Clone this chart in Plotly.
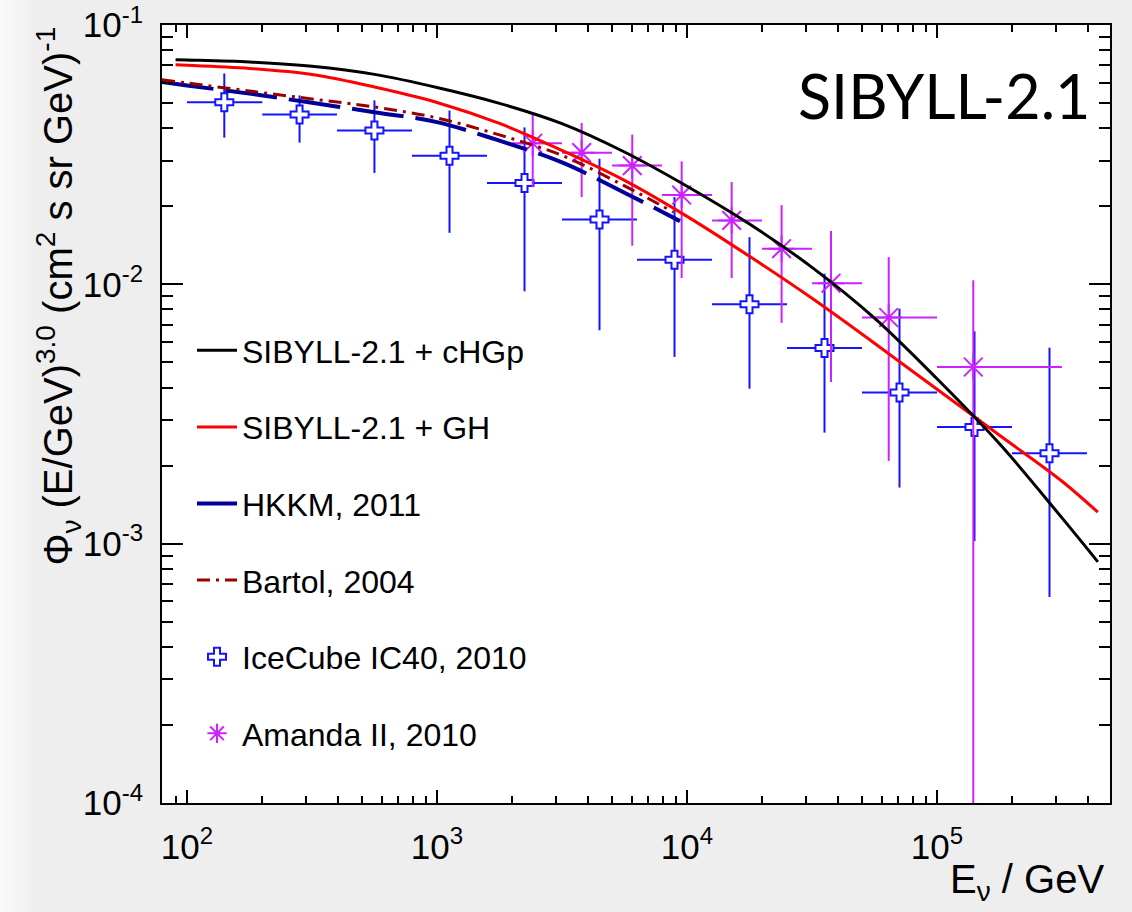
import plotly.graph_objects as go

# ---------------- data ----------------
# Model predictions of the atmospheric nu_mu flux (E^3 weighted)
chgp_energy = [90, 100, 177.8, 316.2, 562.3, 1000, 1778, 3162, 5623, 10000, 17783, 31623, 56234,
               100000, 177828, 316228, 440000]
chgp_flux = [0.0735, 0.07329, 0.07201, 0.06932, 0.06450, 0.05741, 0.04988, 0.04166, 0.03238, 0.02389,
             0.01708, 0.01163, 0.00741, 0.004323, 0.002427, 0.001257, 0.000851]

gh_energy = [90, 100, 177.8, 316.2, 562.3, 1000, 1778, 3162, 5623, 10000, 17783, 31623, 56234,
             100000, 177828, 316228, 440000]
gh_flux = [0.0702, 0.06995, 0.06799, 0.06444, 0.05767, 0.05028, 0.04173, 0.03284, 0.02517, 0.01828,
           0.01282, 0.008833, 0.005926, 0.003938, 0.002618, 0.001741, 0.001322]

hkkm_energy = [79.4, 100, 177.8, 316.2, 562.3, 1000, 1778, 3162, 5623, 9376]
hkkm_flux = [0.06023, 0.05845, 0.05438, 0.05010, 0.04612, 0.04221, 0.03579, 0.02952, 0.02256, 0.01753]

bartol_energy = [79.4, 100, 177.8, 316.2, 562.3, 1000, 1778, 3162, 5623, 8815]
bartol_flux = [0.06152, 0.05976, 0.05565, 0.05186, 0.04830, 0.04381, 0.03768, 0.03141, 0.02396, 0.01899]

# IceCube IC40 unfolded spectrum
ic_energy = [141, 282, 562, 1122, 2239, 4467, 8913, 17783, 35481, 70795, 141254, 281838]
ic_bin_lo = [100, 200, 398, 794, 1585, 3162, 6310, 12589, 25119, 50119, 100000, 199526]
ic_bin_hi = [200, 398, 794, 1585, 3162, 6310, 12589, 25119, 50119, 100000, 199526, 398107]
ic_flux = [0.0504, 0.0452, 0.0392, 0.0313, 0.0246, 0.0178, 0.01245, 0.00838, 0.00568, 0.00383, 0.00282, 0.002234]
ic_flux_lo = [0.0368, 0.0352, 0.0269, 0.0158, 0.0094, 0.00665, 0.00525, 0.00396, 0.00268, 0.001646, 0.001023, 0.000623]
ic_flux_hi = [0.0650, 0.0535, 0.0512, 0.0468, 0.0403, 0.0305, 0.0217, 0.0152, 0.0110, 0.00806, 0.00659, 0.00570]

# Amanda II unfolded spectrum
am_energy = [2415, 3790, 6040, 9520, 15090, 23900, 37670, 64100, 139700]
am_bin_lo = [1995, 3162, 5012, 7943, 12589, 19953, 31623, 50119, 100000]
am_bin_hi = [3162, 5012, 7943, 12589, 19953, 31623, 50119, 100000, 316228]
am_flux = [0.0350, 0.0322, 0.0287, 0.0221, 0.01764, 0.01372, 0.0101, 0.00745, 0.0048]
am_flux_lo = [0.0237, 0.0217, 0.0141, 0.01057, 0.01057, 0.0071, 0.0042, 0.002084, 0.00001]
am_flux_hi = [0.0457, 0.0419, 0.0378, 0.0298, 0.0248, 0.0202, 0.01604, 0.01274, 0.01036]

SUP = '<sup><span style="font-size:24px">{}</span></sup>'
x_tickvals = [1e2, 1e3, 1e4, 1e5]
x_ticktext = ["10" + SUP.format(p) for p in ["2", "3", "4", "5"]]
y_tickvals = [1e-4, 1e-3, 1e-2, 1e-1]
y_ticktext = ["10" + SUP.format(p) for p in ["-4", "-3", "-2", "-1"]]

# ---------------- layout constants ----------------
W, H = 1132, 912
ML, MR, MT, MB = 162, 22, 25, 109
PW, PH = W - ML - MR, H - MT - MB
FONT = "Liberation Sans, Arial, Helvetica, sans-serif"

BLUE = "#1414ff"
MAGENTA = "#cc22ff"


def diff(a, b):
    return [x - y for x, y in zip(a, b)]


fig = go.Figure()

# measurements underneath the model curves
fig.add_trace(go.Scatter(
    x=ic_energy, y=ic_flux, mode="markers", name="IceCube IC40, 2010",
    legendrank=5, legendgroup="ic",
    marker=dict(symbol="cross", size=15, color="white", line=dict(color=BLUE, width=2)),
    error_x=dict(type="data", symmetric=False, array=diff(ic_bin_hi, ic_energy),
                 arrayminus=diff(ic_energy, ic_bin_lo), color=BLUE, thickness=2, width=0),
    error_y=dict(type="data", symmetric=False, array=diff(ic_flux_hi, ic_flux),
                 arrayminus=diff(ic_flux, ic_flux_lo), color=BLUE, thickness=2, width=0),
))
fig.add_trace(go.Scatter(
    x=am_energy, y=am_flux, mode="markers", name="Amanda II, 2010",
    legendrank=6, legendgroup="am",
    marker=dict(symbol="asterisk-open", size=22, color=MAGENTA, line=dict(color=MAGENTA, width=2)),
    error_x=dict(type="data", symmetric=False, array=diff(am_bin_hi, am_energy),
                 arrayminus=diff(am_energy, am_bin_lo), color=MAGENTA, thickness=2, width=0),
    error_y=dict(type="data", symmetric=False, array=diff(am_flux_hi, am_flux),
                 arrayminus=diff(am_flux, am_flux_lo), color=MAGENTA, thickness=2, width=0),
))

fig.add_trace(go.Scatter(
    x=hkkm_energy, y=hkkm_flux, mode="lines", name="HKKM, 2011", legendrank=3, legendgroup="hk",
    line=dict(color="#000099", width=4, dash="52px,12px", shape="spline"),
))
fig.add_trace(go.Scatter(
    x=bartol_energy, y=bartol_flux, mode="lines", name="Bartol, 2004", legendrank=4, legendgroup="ba",
    line=dict(color="#990000", width=3, dash="13px,6px,3px,6px", shape="spline"),
))
fig.add_trace(go.Scatter(
    x=gh_energy, y=gh_flux, mode="lines", name="SIBYLL-2.1 + GH", legendrank=2, legendgroup="gh",
    line=dict(color="#ff0000", width=3, shape="spline"),
))
fig.add_trace(go.Scatter(
    x=chgp_energy, y=chgp_flux, mode="lines", name="SIBYLL-2.1 + cHGp", legendrank=1, legendgroup="ch",
    line=dict(color="black", width=3, shape="spline"),
))

axis_common = dict(
    type="log", showgrid=False, zeroline=False, automargin=False,
    showline=True, linecolor="black", linewidth=2, mirror="ticks",
    ticks="inside", tickcolor="black", tickwidth=1.5,
    tickfont=dict(family=FONT, size=35, color="black"),
)

fig.update_xaxes(
    **axis_common, range=[1.9, 5.692], tickvals=x_tickvals, ticktext=x_ticktext, ticklen=13,
    ticklabelstandoff=12,
    minor=dict(ticks="inside", ticklen=7, dtick="D1", tickcolor="black", tickwidth=1.5, showgrid=False),
)
fig.update_yaxes(
    **axis_common, range=[-4, -1], tickvals=y_tickvals, ticktext=y_ticktext, ticklen=21,
    ticklabelstandoff=10,
    minor=dict(ticks="inside", ticklen=11, dtick="D1", tickcolor="black", tickwidth=1.5, showgrid=False),
)

# soft light band along the left edge of the canvas
shapes = []
n_strips = 20
for i in range(n_strips):
    g = int(250 - (250 - 238) * i / (n_strips - 1))
    shapes.append(dict(
        type="rect", xref="paper", yref="paper", layer="below",
        x0=(-ML + i * 2) / PW, x1=(-ML + i * 2 + 2) / PW, y0=-MB / PH, y1=(PH + MT) / PH,
        line=dict(width=0), fillcolor=f"rgb({g},{g},{g})",
    ))

annotations = [
    dict(text="SIBYLL-2.1", xref="paper", yref="paper", x=(1092 - ML) / PW, y=(H - MB - 95) / PH,
         xanchor="right", yanchor="middle", showarrow=False,
         font=dict(family="Lato, Open Sans, sans-serif", size=61, color="black")),
    dict(text="E<sub>ν</sub> / GeV", xref="paper", yref="paper", x=(1106 - ML) / PW,
         y=(H - MB - 882) / PH, xanchor="right", yanchor="middle", showarrow=False,
         font=dict(family=FONT, size=40, color="black")),
    dict(text="Φ<sub>ν</sub> (E/GeV)<sup>3.0</sup> (cm<sup>2</sup> s sr GeV)<sup>-1</sup>",
         xref="paper", yref="paper", x=(58 - ML) / PW, y=1.0,
         xanchor="center", yanchor="top", textangle=-90, showarrow=False,
         font=dict(family=FONT, size=40, color="black")),
]

fig.update_layout(
    width=W, height=H,
    margin=dict(l=ML, r=MR, t=MT, b=MB),
    paper_bgcolor="#eeeeee", plot_bgcolor="white",
    showlegend=True,
    legend=dict(
        x=(192 - ML) / PW, y=(H - MB - 323) / PH, xanchor="left", yanchor="top",
        bgcolor="rgba(0,0,0,0)", borderwidth=0,
        font=dict(family=FONT, size=32, color="black"),
        tracegroupgap=32, itemwidth=40,
    ),
    shapes=shapes,
    annotations=annotations,
)

fig.write_html("out.html")
